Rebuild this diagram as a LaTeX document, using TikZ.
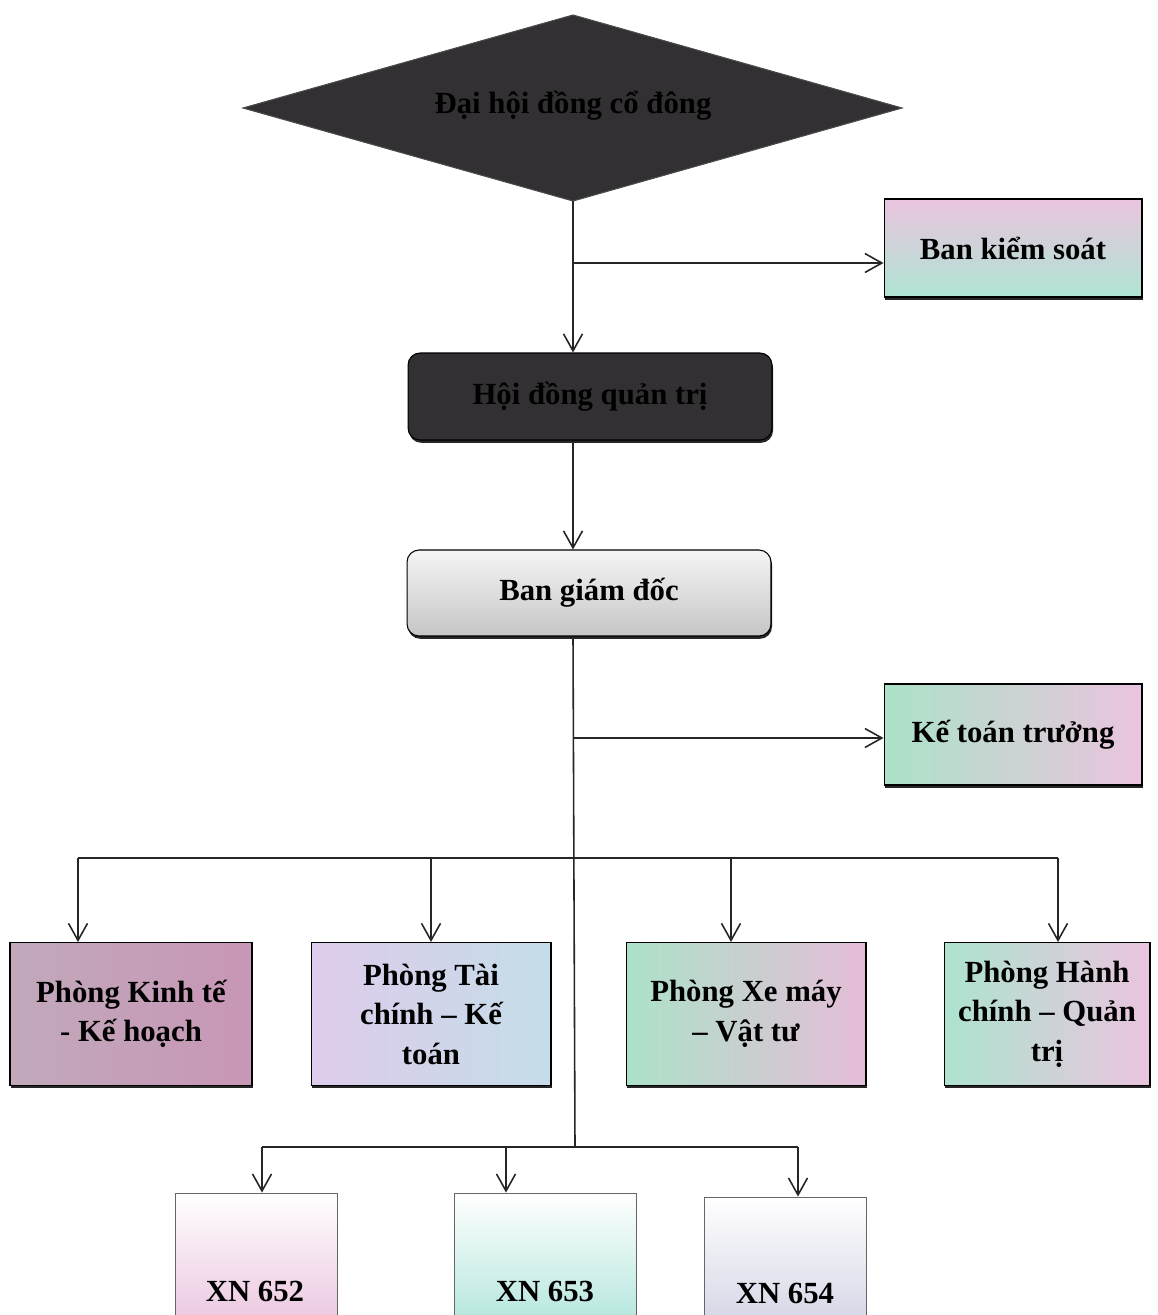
\documentclass[tikz,border=0pt]{standalone}
\usepackage{fontspec}
\setmainfont{Liberation Serif}
\usetikzlibrary{shapes.geometric,arrows.meta,shadows}
\definecolor{pk}{RGB}{234,196,222}
\definecolor{pkd}{RGB}{200,150,182}
\definecolor{gr}{RGB}{172,226,200}
\definecolor{cy}{RGB}{180,232,236}
\definecolor{lv}{RGB}{222,204,236}
\definecolor{dark}{RGB}{50,48,50}
\definecolor{edge}{RGB}{110,70,95}
\begin{document}
\begin{tikzpicture}[x=0.02cm,y=-0.02cm,
  every node/.style={font=\fontsize{17.5}{22.5}\selectfont\bfseries, align=center, text=black},
  shd/.style={drop shadow={shadow xshift=0.6pt, shadow yshift=-1.6pt, fill=black, opacity=0.85}},
  box/.style={draw=black, line width=0.6pt, inner sep=2pt, shd},
  xbox/.style={draw=black!60, line width=0.5pt, inner sep=2pt},
  rbox/.style={box, rounded corners=0.24cm},
  conn/.style={line width=0.9pt, draw=black!85},
  arr/.style={conn, -{Straight Barb[length=3.4mm,width=3.8mm]}}
]
\useasboundingbox (0,0) rectangle (1157,1315);
\clip (0,0) rectangle (1157,1315);
\fill[white] (0,0) rectangle (1157,1315);

% top diamond
\coordinate (dl) at (243,108);
\coordinate (dt) at (573,15);
\coordinate (dr) at (902,108);
\coordinate (dbot) at (573,201);
\fill[edge, shift={(0,3)}] (dl) -- (dt) -- (dr) -- (dbot) -- cycle;
\filldraw[fill=dark, draw=black!70, line width=0.6pt] (dl) -- (dt) -- (dr) -- (dbot) -- cycle;
\node[inner sep=0pt] (dhd) at (573,106) {Đại hội đồng cổ đông};

\node[box, minimum width=5.16cm, minimum height=1.96cm,
      top color=pk, middle color=white!55!pk, bottom color=gr!70!cy] (bks) at (1013,248) {Ban kiểm soát};
\node[rbox, minimum width=7.28cm, minimum height=1.74cm, fill=dark] (hdqt) at (590,396.5) {Hội đồng quản trị};
\node[rbox, minimum width=7.28cm, minimum height=1.72cm,
      top color=gray!8, bottom color=gray!45] (bgd) at (589,593) {Ban giám đốc};
\node[box, minimum width=5.16cm, minimum height=2.02cm,
      left color=gr, middle color=white!50!pk, right color=pk] (ktt) at (1013,734.5) {Kế toán trưởng};

% departments
\node[box, minimum width=4.84cm, minimum height=2.86cm,
      left color=pkd!75!gr, right color=pkd] (p1) at (131,1014) {Phòng Kinh tế\\- Kế hoạch};
\node[box, minimum width=4.8cm, minimum height=2.86cm,
      left color=lv, middle color=pk!80!lv, right color=cy!70!pk] (p2) at (431,1014) {Phòng Tài\\chính – Kế\\toán};
\node[box, minimum width=4.8cm, minimum height=2.86cm,
      left color=gr, middle color=pk!70!white, right color=pk!85!pkd] (p3) at (746,1014) {Phòng Xe máy\\– Vật tư};
\node[box, minimum width=4.12cm, minimum height=2.86cm,
      left color=gr!80!cy, middle color=gr!40!pk, right color=pk] (p4) at (1047,1014) {Phòng Hành\\chính – Quản\\trị};

% enterprises
\node[xbox, minimum width=3.24cm, minimum height=2.74cm,
      top color=white, bottom color=pk] (xn1) at (256,1261.5) {};
\node[xbox, minimum width=3.64cm, minimum height=2.74cm,
      top color=white, bottom color=cy!55!gr] (xn2) at (545,1261.5) {};
\node[xbox, minimum width=3.24cm, minimum height=2.66cm,
      top color=white, bottom color=pk!55!cy] (xn3) at (785,1263.5) {};
\node (t1) at (255,1291) {XN 652};
\node (t2) at (545,1291) {XN 653};
\node (t3) at (785,1293) {XN 654};

% connectors
\coordinate (b1) at (573,263);
\coordinate (b2) at (573,738);
\coordinate (a1) at (78,858);
\coordinate (a2) at (431,858);
\coordinate (a3) at (731,858);
\coordinate (a4) at (1058,858);
\coordinate (c0) at (575,1147);
\coordinate (c1) at (262,1147);
\coordinate (c2) at (506,1147);
\coordinate (c3) at (798,1147);

\draw[arr] (dbot) -- (dbot |- hdqt.north);
\draw[arr] (b1) -- (b1 -| bks.west);
\draw[arr] (dbot |- hdqt.south) -- (dbot |- bgd.north);
\draw[conn] (dbot |- bgd.south) -- (c0);
\draw[arr] (b2) -- (b2 -| ktt.west);
\draw[conn] (a1) -- (a4);
\draw[arr] (a1) -- (a1 |- p1.north);
\draw[arr] (a2) -- (a2 |- p2.north);
\draw[arr] (a3) -- (a3 |- p3.north);
\draw[arr] (a4) -- (a4 |- p4.north);
\draw[conn] (c1) -- (c3);
\draw[arr] (c1) -- (c1 |- xn1.north);
\draw[arr] (c2) -- (c2 |- xn2.north);
\draw[arr] (c3) -- (c3 |- xn3.north);
\end{tikzpicture}
\end{document}
